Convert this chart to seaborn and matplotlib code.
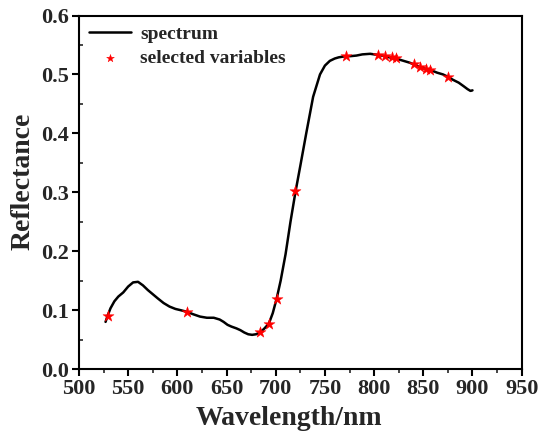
import matplotlib
matplotlib.use("Agg")
import matplotlib.pyplot as plt
import seaborn as sns
import numpy as np
import pandas as pd
from matplotlib.ticker import MultipleLocator

# spectrum
wavelength = [527, 529, 532, 536, 540, 545, 550, 555, 560, 565, 570, 575, 580, 586,
              592, 598, 603, 610, 616, 623, 630, 637, 643, 647, 651, 655, 660, 664,
              668, 672, 676, 680, 684, 688, 693, 697, 701, 705, 710, 715, 720, 725,
              731, 738, 745, 750, 755, 760, 764, 771, 776, 782, 788, 796, 800, 805,
              811, 818, 822, 830, 836, 842, 847, 853, 858, 864, 870, 875, 880, 886,
              891, 895, 898, 900]
reflectance = [0.080, 0.090, 0.103, 0.115, 0.123, 0.130, 0.140, 0.147, 0.148, 0.142,
               0.134, 0.127, 0.120, 0.112, 0.106, 0.102, 0.100, 0.097, 0.093, 0.089,
               0.087, 0.087, 0.084, 0.080, 0.075, 0.072, 0.069, 0.066, 0.062, 0.059,
               0.058, 0.059, 0.062, 0.068, 0.077, 0.095, 0.120, 0.150, 0.195, 0.250,
               0.300, 0.345, 0.400, 0.462, 0.500, 0.515, 0.523, 0.527, 0.529, 0.531,
               0.531, 0.532, 0.534, 0.535, 0.534, 0.533, 0.531, 0.528, 0.527, 0.523,
               0.520, 0.516, 0.512, 0.509, 0.507, 0.503, 0.500, 0.496, 0.491, 0.486,
               0.480, 0.475, 0.472, 0.473]

# selected variables
sel_wavelength = [529, 610, 684, 693, 701, 720, 771, 804, 811, 818, 822, 841, 847, 853, 857, 875]
sel_reflectance = [0.090, 0.097, 0.063, 0.076, 0.119, 0.302, 0.532, 0.533, 0.531, 0.529,
                   0.528, 0.518, 0.513, 0.510, 0.508, 0.496]

x_ticks = [500, 550, 600, 650, 700, 750, 800, 850, 900, 950]
y_ticks = [0.0, 0.1, 0.2, 0.3, 0.4, 0.5, 0.6]

sns.set_theme(style="white")
plt.rcParams['font.family'] = ['Liberation Serif', 'DejaVu Serif']
plt.rcParams['font.weight'] = 'bold'

df = pd.DataFrame({"Wavelength": wavelength, "Reflectance": reflectance})
sel = pd.DataFrame({"Wavelength": sel_wavelength, "Reflectance": sel_reflectance})

fig = plt.figure(figsize=(5.47, 4.43), dpi=100)
ax = fig.add_axes([0.1444, 0.167, 0.8093, 0.798])

sns.lineplot(data=df, x="Wavelength", y="Reflectance", ax=ax, color="black",
             linewidth=1.8, label="spectrum", sort=False)
sns.scatterplot(data=sel, x="Wavelength", y="Reflectance", ax=ax, color="red",
                marker="*", s=70, edgecolor="red", linewidth=0.3,
                label="selected variables", zorder=3)

ax.set_xlim(500, 950)
ax.set_ylim(0, 0.6)
ax.set_xticks(x_ticks)
ax.set_yticks(y_ticks)
ax.set_xticklabels([str(v) for v in x_ticks])
ax.set_yticklabels([f"{v:.1f}" for v in y_ticks])
ax.xaxis.set_minor_locator(MultipleLocator(25))
ax.yaxis.set_minor_locator(MultipleLocator(0.05))

for s in ax.spines.values():
    s.set_color("black")
    s.set_linewidth(1.5)

ax.tick_params(axis="both", which="major", labelsize=16, width=1.5, length=5,
               direction="out", color="black", bottom=True, left=True, pad=2)
ax.tick_params(axis="x", which="minor", width=1.2, length=3, direction="out",
               bottom=True)
ax.tick_params(axis="y", which="minor", width=1.2, length=3, direction="in",
               left=True)
for lab in ax.get_xticklabels() + ax.get_yticklabels():
    lab.set_fontweight("bold")

ax.set_xlabel("Wavelength/nm", fontsize=20, fontweight="bold", labelpad=5)
ax.set_ylabel("Reflectance", fontsize=20, fontweight="bold", labelpad=4)
ax.xaxis.label.set_x(0.475)
ax.yaxis.label.set_y(0.53)

leg = ax.legend(loc="upper left", frameon=False, prop={"size": 14, "weight": "bold"},
                handlelength=2.2, handletextpad=0.45, borderaxespad=0.2,
                borderpad=0.3, labelspacing=0.35, markerscale=0.7)

fig.savefig("out.png", dpi=100)
